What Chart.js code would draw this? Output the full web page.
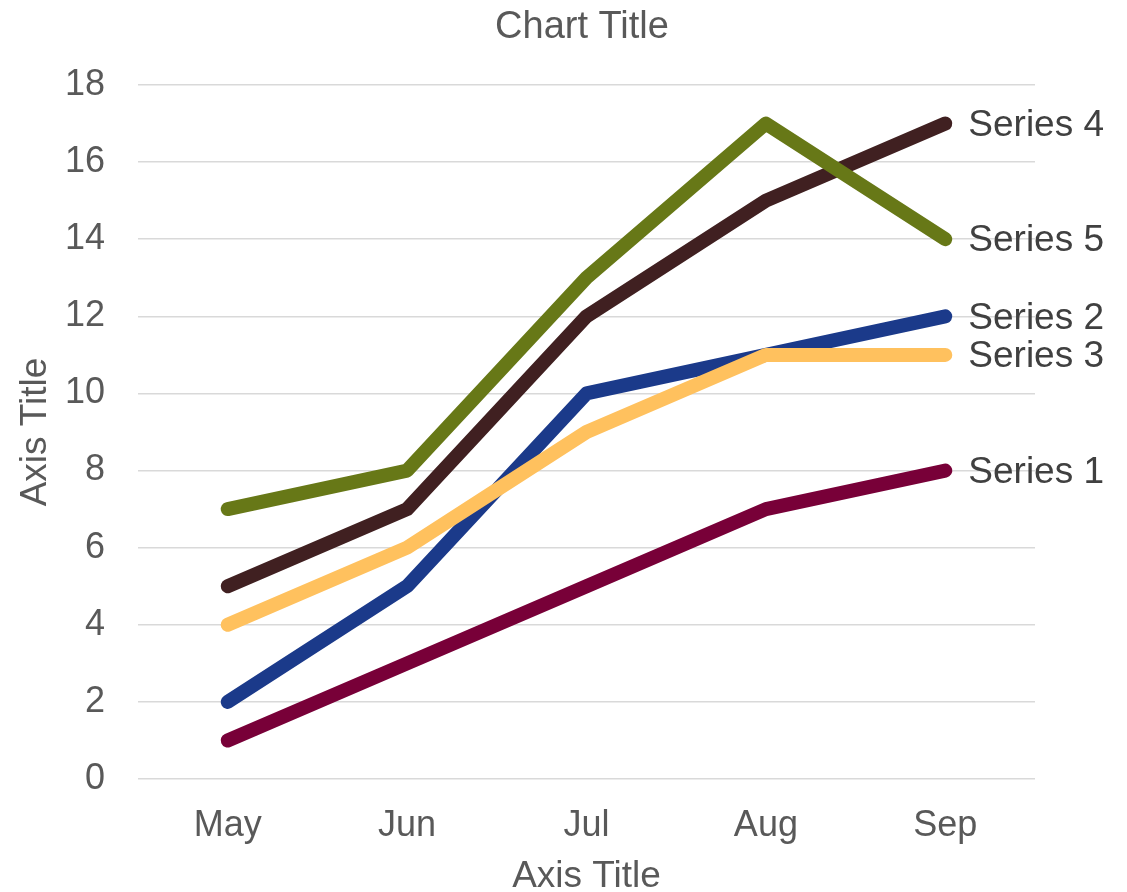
<!DOCTYPE html>
<html>
<head>
<meta charset="utf-8">
<title>Chart Title</title>
<script src="https://cdn.jsdelivr.net/npm/chart.js@4"></script>
<style>
    body { margin: 0; background: #fff; }
    #wrap { width: 1127px; height: 892px; }
</style>
</head>
<body>
<div id="wrap"><canvas id="chart" width="1127" height="892"></canvas></div>
<script>
// data
const months = ["May", "Jun", "Jul", "Aug", "Sep"];
const seriesNames = ["Series 1", "Series 2", "Series 3", "Series 4", "Series 5"];
const series1 = [1, 3, 5, 7, 8];
const series2 = [2, 5, 10, 11, 12];
const series3 = [4, 6, 9, 11, 11];
const series4 = [5, 7, 12, 15, 17];
const series5 = [7, 8, 13, 17, 14];
const yTicks = [0, 2, 4, 6, 8, 10, 12, 14, 16, 18];
const chartTitle = "Chart Title";
const axisTitle = "Axis Title";
const seriesColors = ["#780038", "#1b3a8a", "#ffc15e", "#402021", "#677817"];

const FONT = "'Liberation Sans', Arial, sans-serif";
const GREY = "#595959";

// title + label at the end of every line
const extraText = {
    id: "extraText",
    afterDatasetsDraw(chart) {
        const ctx = chart.ctx;
        ctx.save();
        ctx.textBaseline = "middle";

        ctx.font = "38px " + FONT;
        ctx.fillStyle = GREY;
        ctx.textAlign = "center";
        ctx.fillText(chartTitle, 582, 28);

        ctx.font = "37px " + FONT;
        ctx.fillStyle = "#404040";
        ctx.textAlign = "left";
        chart.data.datasets.forEach((ds, i) => {
            const meta = chart.getDatasetMeta(i);
            const pt = meta.data[meta.data.length - 1];
            ctx.fillText(ds.label, pt.x + 23, pt.y + 2);
        });
        ctx.restore();
    }
};

const allSeries = [series1, series2, series3, series4, series5];

new Chart(document.getElementById("chart"), {
    type: "line",
    data: {
        labels: months,
        datasets: allSeries.map((vals, i) => ({
            label: seriesNames[i],
            data: vals,
            borderColor: seriesColors[i],
            backgroundColor: seriesColors[i],
            borderWidth: 14,
            borderCapStyle: "round",
            borderJoinStyle: "round",
            pointRadius: 0,
            tension: 0,
            order: allSeries.length - 1 - i
        }))
    },
    options: {
        responsive: false,
        animation: false,
        layout: { padding: { left: 0, right: 92, top: 85, bottom: 0 } },
        plugins: {
            legend: { display: false },
            tooltip: { enabled: false },
            title: { display: false }
        },
        scales: {
            x: {
                offset: true,
                grid: { display: false, drawTicks: false },
                border: { display: false },
                ticks: {
                    color: GREY,
                    padding: 25,
                    font: { family: FONT, size: 36, lineHeight: 1.2 }
                },
                title: {
                    display: true,
                    text: axisTitle,
                    color: GREY,
                    font: { family: FONT, size: 37, lineHeight: 0.8 },
                    padding: { top: 0, bottom: 0 }
                },
                afterFit(scale) { scale.height = 113; }
            },
            y: {
                min: yTicks[0],
                max: yTicks[yTicks.length - 1],
                afterBuildTicks(scale) { scale.ticks = yTicks.map(v => ({ value: v })); },
                ticks: {
                    color: GREY,
                    padding: 33,
                    font: { family: FONT, size: 36, lineHeight: 1.2 }
                },
                grid: { color: "#d9d9d9", lineWidth: 1.5, drawTicks: false },
                border: { display: false },
                title: {
                    display: true,
                    text: axisTitle,
                    color: GREY,
                    font: { family: FONT, size: 37, lineHeight: 1.2 },
                    padding: { top: 14, bottom: 0 }
                },
                afterFit(scale) { scale.width = 138; }
            }
        }
    },
    plugins: [extraText]
});
</script>
</body>
</html>
